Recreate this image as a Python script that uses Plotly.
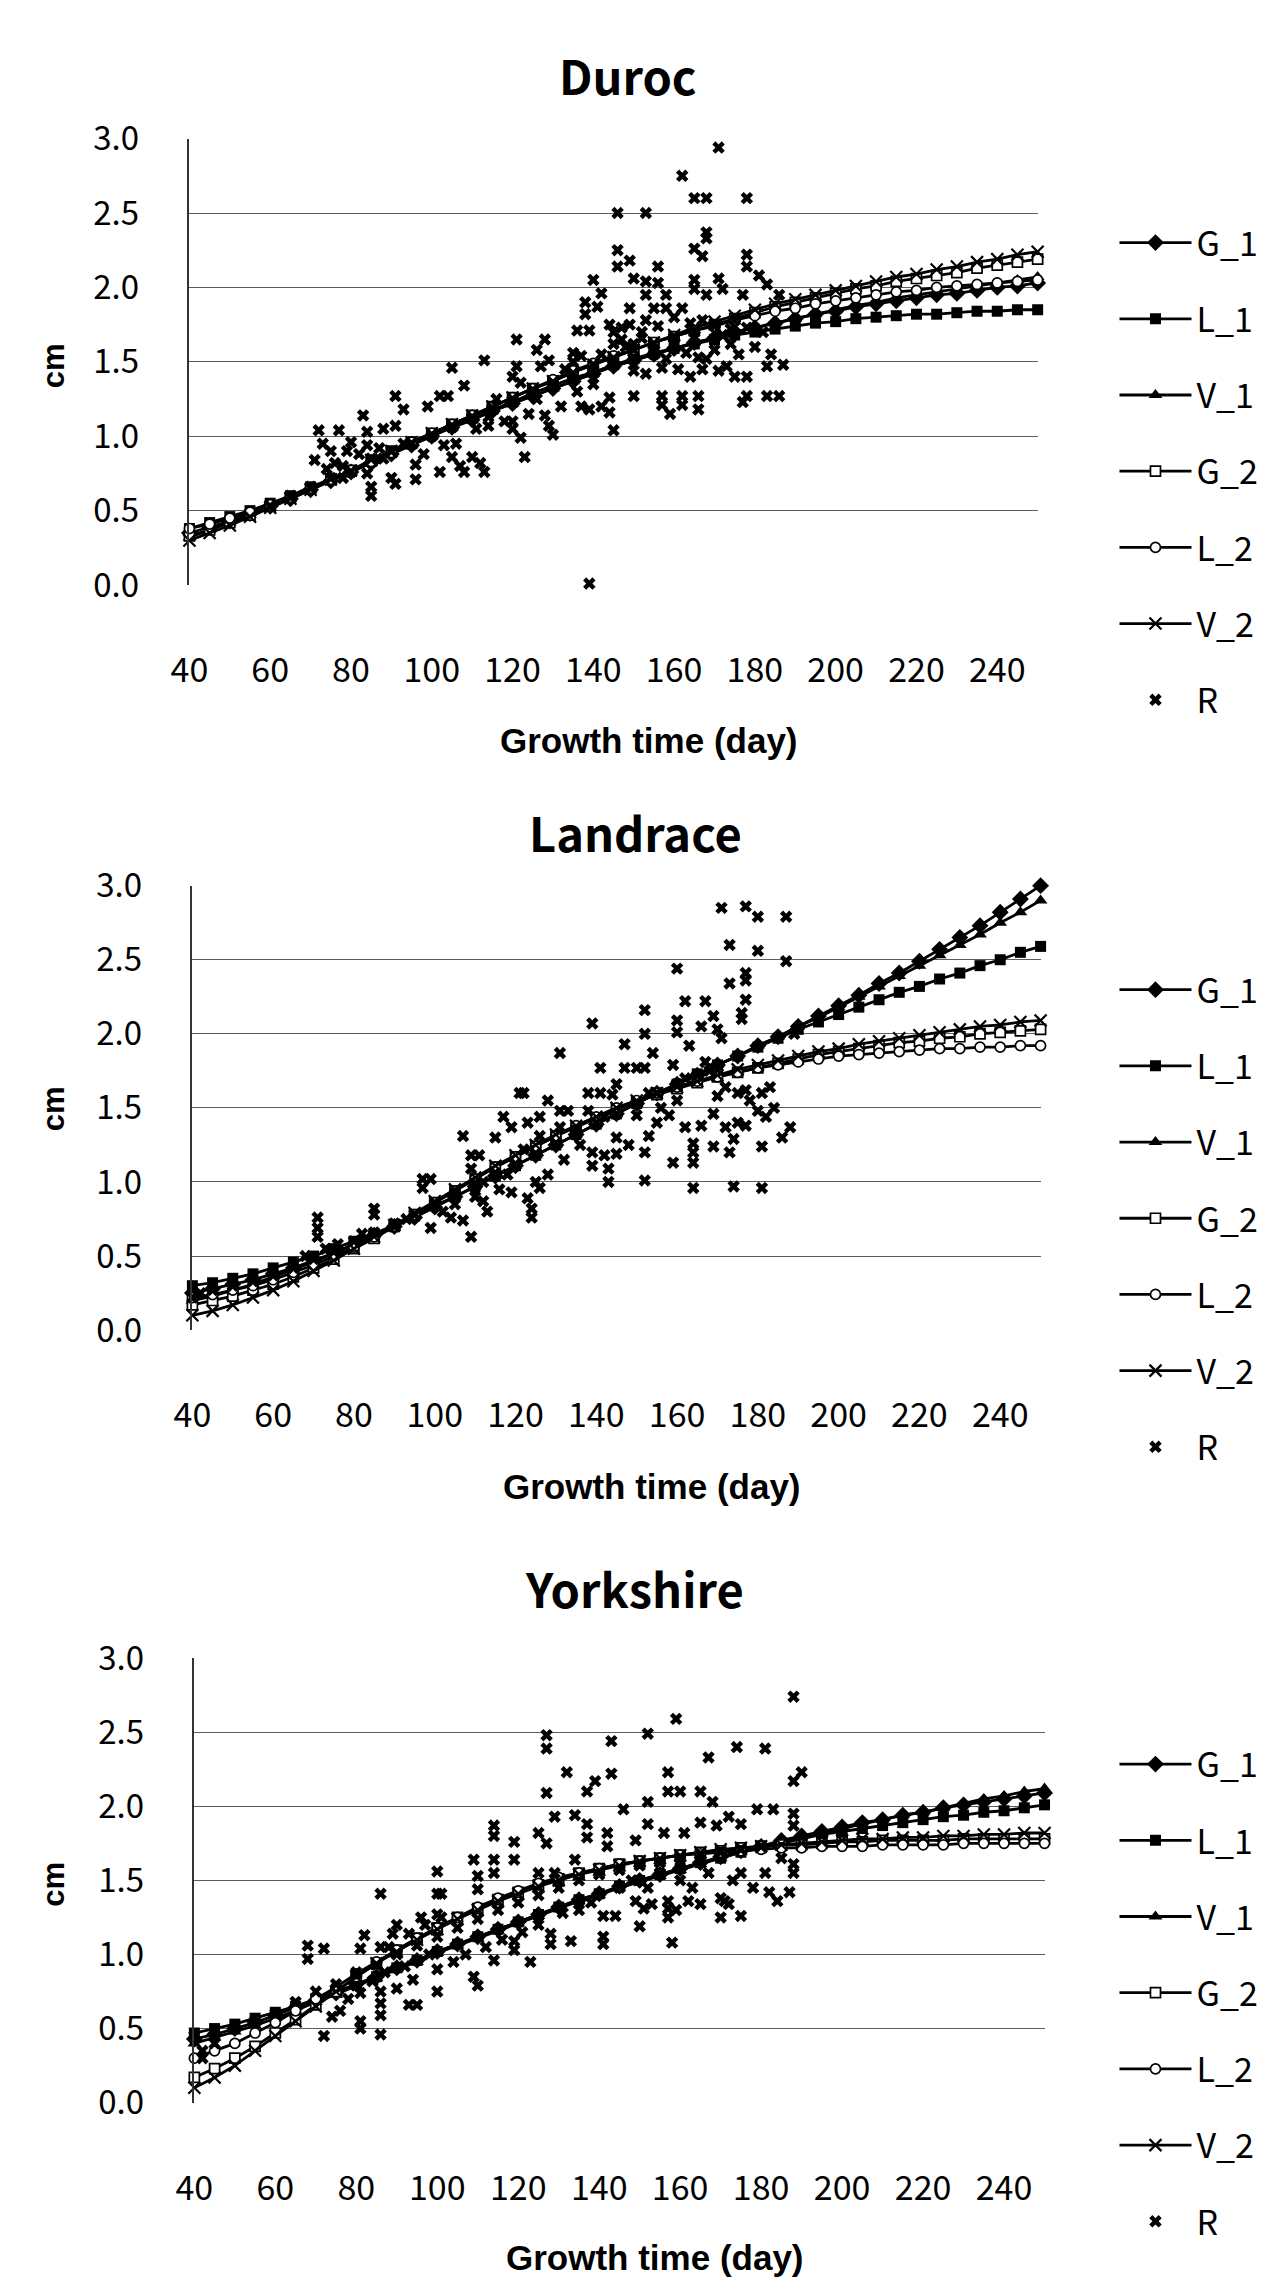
import plotly.graph_objects as go

# ---------------- data ----------------
DAYS = list(range(40, 251, 5))          # fitted-curve evaluation days
X_TICKS = list(range(40, 241, 20))
Y_TICKS = [0.0, 0.5, 1.0, 1.5, 2.0, 2.5, 3.0]
Y_TICK_TEXT = ["0.0", "0.5", "1.0", "1.5", "2.0", "2.5", "3.0"]
SERIES = ["G_1", "L_1", "V_1", "G_2", "L_2", "V_2"]

# ---- Duroc ----
duroc_G1 = [0.35,0.39,0.43,0.48,0.53,0.58,0.64,0.70,0.76,0.82,0.88,0.94,1.00,1.06,1.11,1.17,1.22,1.27,1.32,1.37,1.42,1.47,1.51,1.55,1.59,1.63,1.66,1.70,1.73,1.76,1.79,1.82,1.84,1.87,1.89,1.91,1.93,1.95,1.96,1.98,2.00,2.01,2.03]
duroc_L1 = [0.38,0.42,0.46,0.50,0.55,0.60,0.66,0.71,0.77,0.83,0.89,0.95,1.01,1.07,1.12,1.18,1.23,1.29,1.34,1.39,1.43,1.48,1.52,1.56,1.59,1.62,1.65,1.68,1.70,1.72,1.74,1.76,1.77,1.79,1.80,1.81,1.82,1.82,1.83,1.84,1.84,1.85,1.85]
duroc_V1 = [0.32,0.37,0.42,0.47,0.52,0.58,0.64,0.70,0.76,0.82,0.88,0.94,1.00,1.06,1.11,1.17,1.22,1.27,1.32,1.37,1.42,1.47,1.51,1.55,1.59,1.63,1.66,1.70,1.73,1.76,1.79,1.82,1.85,1.88,1.90,1.93,1.95,1.97,1.99,2.01,2.03,2.05,2.07]
duroc_G2 = [0.33,0.37,0.42,0.47,0.53,0.59,0.65,0.71,0.77,0.84,0.90,0.96,1.02,1.08,1.14,1.20,1.26,1.32,1.37,1.43,1.48,1.53,1.58,1.63,1.67,1.71,1.75,1.79,1.83,1.87,1.90,1.93,1.96,1.99,2.01,2.04,2.06,2.08,2.10,2.13,2.15,2.17,2.19]
duroc_L2 = [0.38,0.41,0.45,0.49,0.54,0.59,0.65,0.71,0.77,0.83,0.89,0.96,1.02,1.08,1.14,1.20,1.26,1.32,1.38,1.44,1.49,1.54,1.58,1.63,1.67,1.71,1.74,1.78,1.81,1.84,1.86,1.89,1.91,1.93,1.95,1.97,1.98,2.00,2.01,2.02,2.03,2.04,2.05]
duroc_V2 = [0.30,0.35,0.40,0.46,0.52,0.58,0.64,0.71,0.77,0.84,0.90,0.96,1.02,1.08,1.14,1.20,1.26,1.32,1.37,1.43,1.48,1.53,1.58,1.63,1.68,1.73,1.77,1.81,1.85,1.89,1.92,1.95,1.98,2.01,2.04,2.07,2.09,2.12,2.14,2.17,2.19,2.22,2.24]
duroc_R_x = [60,65,70,75,78,80,85,90,95,100,105,110,115,120,125,130,135,140,145,150,155,160,165,170,175,
             171,162,165,168,178,146,153,168,168,165,167,146,146,149,156,178,178,181,140,142,150,153,156,153,158,
             165,165,168,171,172,177,183,138,138,141,136,139,144,147,149,149,155,158,162,153,156,160,164,167,
             135,137,150,153,157,150,157,162,166,157,162,166,159,167,173,175,178,178,183,177,184,183,
             137,139,142,144,144,145,139,121,128,126,105,113,108,91,93,99,102,104,83,72,77,73,75,79,71,
             84,88,91,84,87,84,85,85,90,91,96,96,102,107,108,112,113,110,105,103,120,120,122,123,114,114,
             128,129,130,121,120,122,129,127,135,133,145,148,152,160,163,166,170,174,176,180,182,186,187,186,
             178,174,170,172,
             145,147,150,152,155,158,161,164,168,171,140,142,136,132,126,124,118,116,111,106,98,93,88,82,80,76,74,78]
duroc_R_y = [0.53,0.60,0.66,0.72,0.80,0.76,0.85,0.90,0.95,1.00,1.06,1.12,1.18,1.24,1.30,1.36,1.42,1.48,1.52,1.58,1.62,1.66,1.70,1.74,1.78,
             2.94,2.75,2.60,2.60,2.60,2.50,2.50,2.37,2.33,2.26,2.21,2.25,2.14,2.18,2.14,2.22,2.14,2.08,2.05,1.96,2.06,2.04,2.03,1.95,1.95,
             2.05,1.99,1.95,2.06,1.99,1.95,2.02,1.90,1.82,1.87,1.71,1.71,1.75,1.73,1.75,1.86,1.86,1.86,1.86,1.78,1.74,1.80,1.76,1.78,
             1.56,1.54,1.44,1.42,1.46,1.27,1.27,1.27,1.27,1.21,1.21,1.18,1.15,1.45,1.47,1.40,1.40,1.27,1.27,1.23,1.55,1.47,
             1.20,1.18,1.20,1.26,1.16,1.04,0.01,1.65,1.65,1.58,1.46,1.51,1.34,1.27,1.18,1.20,1.27,1.27,1.14,1.04,1.04,0.95,0.90,0.90,0.84,
             1.03,1.05,1.07,0.94,0.92,0.75,0.66,0.60,0.72,0.68,0.71,0.81,0.76,0.80,0.76,0.82,0.76,0.86,0.86,0.94,1.10,1.05,0.99,0.86,1.07,1.13,
             1.14,1.07,1.01,1.47,1.40,1.36,1.51,1.47,1.50,1.45,1.62,1.60,1.66,1.62,1.56,1.53,1.58,1.62,1.55,1.60,1.70,1.95,1.48,1.27,
             1.73,1.72,1.75,1.68,
             1.70,1.65,1.62,1.70,1.55,1.52,1.45,1.40,1.52,1.44,1.35,1.55,1.30,1.20,1.25,1.15,1.10,1.25,1.05,0.95,0.88,0.95,0.85,0.88,0.96,0.82,0.78,0.72]

# ---- Landrace ----
landrace_G1 = [0.25,0.28,0.31,0.34,0.38,0.42,0.47,0.52,0.58,0.64,0.70,0.76,0.83,0.90,0.97,1.04,1.11,1.18,1.25,1.32,1.39,1.46,1.53,1.60,1.66,1.72,1.79,1.85,1.92,1.98,2.05,2.12,2.19,2.26,2.34,2.41,2.49,2.57,2.65,2.73,2.82,2.91,3.00]
landrace_L1 = [0.30,0.32,0.35,0.38,0.42,0.46,0.50,0.55,0.60,0.65,0.71,0.77,0.84,0.90,0.97,1.04,1.11,1.18,1.25,1.32,1.39,1.46,1.53,1.60,1.66,1.73,1.79,1.85,1.91,1.97,2.03,2.08,2.13,2.18,2.23,2.28,2.32,2.37,2.41,2.46,2.50,2.55,2.59]
landrace_V1 = [0.20,0.23,0.27,0.31,0.36,0.41,0.46,0.52,0.58,0.64,0.70,0.77,0.84,0.90,0.97,1.04,1.11,1.18,1.25,1.32,1.39,1.46,1.53,1.60,1.66,1.72,1.79,1.85,1.92,1.98,2.05,2.11,2.18,2.25,2.32,2.39,2.46,2.53,2.60,2.67,2.75,2.82,2.90]
landrace_G2 = [0.17,0.20,0.23,0.27,0.31,0.36,0.42,0.48,0.55,0.62,0.70,0.78,0.86,0.94,1.02,1.10,1.17,1.24,1.31,1.37,1.43,1.49,1.54,1.59,1.63,1.67,1.71,1.74,1.77,1.80,1.83,1.86,1.88,1.90,1.92,1.94,1.95,1.97,1.98,2.00,2.01,2.02,2.03]
landrace_L2 = [0.22,0.24,0.27,0.30,0.34,0.39,0.44,0.50,0.56,0.63,0.70,0.78,0.86,0.94,1.02,1.10,1.17,1.24,1.31,1.38,1.44,1.50,1.55,1.60,1.64,1.68,1.71,1.74,1.77,1.79,1.81,1.83,1.85,1.86,1.87,1.88,1.89,1.90,1.90,1.91,1.91,1.92,1.92]
landrace_V2 = [0.10,0.13,0.17,0.22,0.27,0.33,0.40,0.47,0.55,0.63,0.71,0.79,0.87,0.95,1.03,1.11,1.18,1.25,1.32,1.38,1.44,1.50,1.55,1.60,1.64,1.68,1.72,1.76,1.79,1.82,1.85,1.88,1.90,1.93,1.95,1.97,1.99,2.01,2.03,2.05,2.06,2.08,2.09]
landrace_R_x = [40,42,45,50,55,60,65,70,75,80,85,90,95,100,105,110,115,120,125,130,135,140,145,150,155,160,165,
                171,177,180,187,173,180,187,160,177,177,177,173,176,176,162,167,160,160,152,152,139,147,131,166,169,170,171,189,
                141,147,150,152,154,145,144,159,163,167,121,122,138,141,128,131,133,117,119,123,126,126,131,138,142,153,
                172,175,177,181,183,162,166,172,175,177,188,169,180,182,153,152,159,164,164,164,169,174,173,181,
                139,142,145,139,143,143,152,164,174,181,107,109,111,109,97,99,97,85,85,71,71,71,99,104,107,109,
                119,123,124,124,126,113,112,110,116,118,125,135,150,156,160,
                145,148,155,158,162,168,170,178,184,186,136,132,128,122,115,112,105,102,93,90,82,76,73,68]
landrace_R_y = [0.22,0.25,0.27,0.30,0.33,0.37,0.42,0.48,0.53,0.60,0.66,0.72,0.78,0.85,0.92,0.99,1.06,1.12,1.19,1.26,1.33,1.40,1.46,1.53,1.60,1.66,1.72,
                2.85,2.86,2.79,2.79,2.60,2.56,2.49,2.44,2.41,2.36,2.23,2.34,2.14,2.10,2.22,2.22,2.09,2.01,2.16,2.00,2.07,1.93,1.87,2.05,2.12,2.03,1.97,2.00,
                1.77,1.77,1.77,1.77,1.87,1.66,1.59,1.79,1.92,1.81,1.60,1.60,1.60,1.60,1.55,1.48,1.48,1.44,1.37,1.40,1.44,1.31,1.37,1.48,1.44,1.60,
                1.64,1.60,1.62,1.60,1.64,1.37,1.38,1.37,1.40,1.38,1.37,1.46,1.48,1.44,1.31,1.20,1.13,1.26,1.20,1.13,1.24,1.29,1.20,1.24,
                1.20,1.18,1.19,1.11,1.09,1.00,1.01,0.96,0.97,0.96,1.31,1.18,1.18,1.09,1.02,1.02,0.96,0.82,0.78,0.76,0.69,0.63,0.69,0.76,0.74,0.63,
                0.93,0.89,0.82,0.76,0.96,0.80,0.87,0.90,0.95,1.05,1.00,1.35,1.45,1.50,1.55,
                1.30,1.25,1.40,1.45,1.70,1.75,1.58,1.55,1.50,1.30,1.25,1.15,1.05,1.22,1.30,1.00,0.85,0.80,0.75,0.70,0.65,0.58,0.55,0.50]

# ---- Yorkshire ----
yorkshire_G1 = [0.43,0.46,0.50,0.54,0.59,0.64,0.69,0.74,0.80,0.85,0.91,0.96,1.02,1.07,1.12,1.17,1.22,1.27,1.32,1.37,1.41,1.46,1.50,1.54,1.58,1.62,1.66,1.70,1.73,1.77,1.80,1.83,1.86,1.89,1.91,1.94,1.96,1.99,2.01,2.03,2.05,2.07,2.09]
yorkshire_L1 = [0.47,0.50,0.53,0.57,0.61,0.65,0.70,0.75,0.80,0.85,0.91,0.96,1.02,1.07,1.12,1.17,1.22,1.27,1.32,1.37,1.41,1.46,1.50,1.54,1.58,1.62,1.65,1.69,1.72,1.75,1.78,1.81,1.83,1.85,1.87,1.89,1.91,1.93,1.94,1.96,1.97,1.99,2.01]
yorkshire_V1 = [0.40,0.44,0.48,0.52,0.57,0.62,0.68,0.73,0.79,0.84,0.90,0.95,1.01,1.06,1.11,1.16,1.21,1.26,1.31,1.36,1.40,1.45,1.49,1.53,1.57,1.61,1.65,1.69,1.72,1.76,1.79,1.82,1.85,1.88,1.91,1.94,1.96,1.99,2.02,2.05,2.07,2.10,2.12]
yorkshire_G2 = [0.17,0.23,0.30,0.38,0.47,0.56,0.66,0.75,0.85,0.94,1.03,1.11,1.18,1.25,1.31,1.37,1.42,1.47,1.51,1.55,1.58,1.61,1.63,1.65,1.67,1.69,1.70,1.72,1.73,1.74,1.74,1.75,1.76,1.76,1.77,1.77,1.77,1.77,1.78,1.78,1.78,1.78,1.78]
yorkshire_L2 = [0.30,0.35,0.40,0.47,0.54,0.62,0.70,0.78,0.87,0.95,1.03,1.11,1.18,1.25,1.32,1.38,1.43,1.48,1.52,1.55,1.58,1.61,1.63,1.65,1.67,1.68,1.69,1.70,1.71,1.72,1.72,1.73,1.73,1.73,1.74,1.74,1.74,1.74,1.75,1.75,1.75,1.75,1.75]
yorkshire_V2 = [0.10,0.17,0.25,0.35,0.45,0.55,0.65,0.75,0.85,0.94,1.02,1.10,1.17,1.24,1.30,1.36,1.41,1.46,1.50,1.54,1.57,1.60,1.63,1.65,1.67,1.69,1.71,1.72,1.73,1.74,1.75,1.76,1.77,1.78,1.78,1.79,1.79,1.80,1.80,1.81,1.81,1.82,1.82]
yorkshire_R_x = [40,42,45,50,55,60,65,70,75,80,85,90,95,100,105,110,115,120,125,130,135,140,145,150,155,160,165,170,175,180,
                 188,159,127,152,127,143,167,174,181,132,143,139,137,127,157,188,190,157,160,165,168,152,146,179,183,
                 129,134,137,137,114,114,119,125,127,142,142,149,152,156,161,165,169,172,175,188,188,
                 109,114,119,100,110,110,114,86,100,101,125,129,134,188,188,175,182,184,187,
                 149,151,153,157,157,159,162,165,170,171,172,170,175,157,141,144,150,128,128,133,141,141,158,
                 119,119,114,109,110,123,100,100,96,97,100,101,93,89,90,82,81,86,88,68,68,72,
                 80,80,81,81,81,86,86,86,86,93,95,90,94,72,42,45,
                 145,148,152,155,160,163,167,173,178,181,185,138,135,131,125,121,116,112,107,104,98,92,87,84,78,76,74]
yorkshire_R_y = [0.45,0.30,0.40,0.50,0.55,0.60,0.68,0.75,0.80,0.87,0.93,1.00,1.06,1.12,1.18,1.24,1.30,1.35,1.40,1.45,1.50,1.54,1.57,1.60,1.62,1.65,1.67,1.69,1.71,1.73,
                 2.74,2.59,2.48,2.49,2.39,2.44,2.33,2.40,2.39,2.23,2.22,2.17,2.10,2.09,2.23,2.17,2.23,2.10,2.10,2.10,2.03,2.03,1.98,1.98,1.98,
                 1.93,1.94,1.88,1.79,1.87,1.80,1.76,1.82,1.75,1.82,1.73,1.77,1.88,1.82,1.82,1.89,1.87,1.93,1.88,1.95,1.87,
                 1.64,1.64,1.64,1.56,1.53,1.44,1.55,1.41,1.41,1.41,1.55,1.55,1.64,1.61,1.55,1.55,1.42,1.36,1.42,
                 1.36,1.31,1.34,1.36,1.31,1.30,1.36,1.34,1.38,1.36,1.34,1.25,1.26,1.25,1.26,1.26,1.19,1.14,1.07,1.09,1.12,1.07,1.08,
                 1.09,1.03,0.96,0.85,0.79,0.95,0.90,0.75,1.25,1.20,1.27,1.25,1.14,1.14,1.20,1.13,1.04,1.05,1.05,1.06,0.97,1.04,
                 0.88,0.79,0.74,0.55,0.50,0.75,0.67,0.59,0.46,0.66,0.66,0.77,0.83,0.45,0.35,0.45,
                 1.45,1.50,1.45,1.55,1.50,1.45,1.55,1.50,1.45,1.55,1.65,1.35,1.30,1.28,1.20,1.15,1.10,1.05,1.00,0.95,1.00,0.92,0.88,0.82,0.70,0.62,0.58]

# ---------------- layout helpers ----------------
W, H = 1279, 2296
def fx(p): return p / W
def fy(p): return 1 - p / H

STYLE = {
    "G_1": dict(symbol="diamond", size=13, fill="black", lw=0),
    "L_1": dict(symbol="square", size=11, fill="black", lw=0),
    "V_1": dict(symbol="triangle-up", size=12, fill="black", lw=0),
    "G_2": dict(symbol="square", size=10, fill="white", lw=1.7),
    "L_2": dict(symbol="circle", size=10, fill="white", lw=1.7),
    "V_2": dict(symbol="x-thin", size=12, fill="black", lw=2.2),
}

panels = [
    dict(title="Duroc", curves=[duroc_G1, duroc_L1, duroc_V1, duroc_G2, duroc_L2, duroc_V2],
         rx=duroc_R_x, ry=duroc_R_y, x0=173, x1=1034, y0=115, y1=571,
         tx=618, ty=50, gx=640, gy=730, cmy=347, leg=216),
    dict(title="Landrace", curves=[landrace_G1, landrace_L1, landrace_V1, landrace_G2, landrace_L2, landrace_V2],
         rx=landrace_R_x, ry=landrace_R_y, x0=176, x1=1037, y0=878, y1=1332,
         tx=626, ty=823, gx=643, gy=1492, cmy=1106, leg=979),
    dict(title="Yorkshire", curves=[yorkshire_G1, yorkshire_L1, yorkshire_V1, yorkshire_G2, yorkshire_L2, yorkshire_V2],
         rx=yorkshire_R_x, ry=yorkshire_R_y, x0=178, x1=1041, y0=1667, y1=2121,
         tx=625, ty=1595, gx=646, gy=2279, cmy=1898, leg=1770),
]

KR = "Noto Sans CJK KR, Noto Sans, sans-serif"
XTICK_FONT = dict(family=KR, size=34, color="black")
YTICK_FONT = dict(family=KR, size=33, color="black")
fig = go.Figure()
annotations = []
layout = {}

for i, p in enumerate(panels, start=1):
    xa = "x" if i == 1 else f"x{i}"
    ya = "y" if i == 1 else f"y{i}"
    leg = "legend" if i == 1 else f"legend{i}"
    for name, vals in zip(SERIES, p["curves"]):
        st = STYLE[name]
        fig.add_trace(go.Scatter(
            x=DAYS, y=vals, name=name, mode="lines+markers", xaxis=xa, yaxis=ya,
            legend=leg, legendgroup=f"{p['title']}_{name}",
            line=dict(color="black", width=2.8),
            marker=dict(symbol=st["symbol"], size=st["size"], color=st["fill"],
                        line=dict(color="black", width=st["lw"])),
            cliponaxis=False, hoverinfo="skip"))
    fig.add_trace(go.Scatter(
        x=p["rx"], y=p["ry"], name="R", mode="markers", xaxis=xa, yaxis=ya,
        legend=leg, legendgroup=f"{p['title']}_R",
        marker=dict(symbol="x", size=11, color="black", line=dict(width=0)),
        cliponaxis=False, hoverinfo="skip"))

    layout["xaxis" if i == 1 else f"xaxis{i}"] = dict(
        domain=[fx(p["x0"]), fx(p["x1"])], anchor=ya, range=[40, 250],
        tickmode="array", tickvals=X_TICKS, ticktext=[str(v) for v in X_TICKS],
        showgrid=False, zeroline=False, showline=False, ticks="",
        tickfont=XTICK_FONT, ticklabelstandoff=62)
    layout["yaxis" if i == 1 else f"yaxis{i}"] = dict(
        domain=[fy(p["y1"]), fy(p["y0"])], anchor=xa, range=[0, 3],
        tickmode="array", tickvals=Y_TICKS, ticktext=Y_TICK_TEXT,
        showgrid=True, gridcolor="#5c5c5c", gridwidth=1.4, zeroline=False,
        showline=True, linecolor="#333", linewidth=1.6, ticks="",
        tickfont=YTICK_FONT, ticklabelstandoff=42)
    layout[leg] = dict(x=fx(1112), y=fy(p["leg"] - 24), xanchor="left", yanchor="top",
                       font=dict(family=KR, size=34, color="black"),
                       tracegroupgap=29, bgcolor="rgba(0,0,0,0)", itemwidth=72,
                       traceorder="grouped")

    annotations.append(dict(text=f"<b>{p['title']}</b>", x=fx(p["tx"]), y=fy(p["ty"]), xref="paper", yref="paper",
                            showarrow=False, xanchor="center", yanchor="middle",
                            font=dict(family=KR, size=47, color="black")))
    annotations.append(dict(text="<b>Growth time (day)</b>", x=fx(p["gx"]), y=fy(p["gy"]), xref="paper", yref="paper",
                            showarrow=False, xanchor="center", yanchor="middle",
                            font=dict(family="Liberation Sans, Arial, sans-serif", size=35, color="black")))
    annotations.append(dict(text="<b>cm</b>", x=fx(35), y=fy(p["cmy"]), xref="paper", yref="paper",
                            showarrow=False, xanchor="center", yanchor="middle", textangle=-90,
                            font=dict(family="Liberation Sans, Arial, sans-serif", size=31, color="black")))

fig.update_layout(width=W, height=H, margin=dict(l=0, r=0, t=0, b=0),
                  paper_bgcolor="white", plot_bgcolor="white",
                  annotations=annotations, showlegend=True, **layout)
fig.write_html("out.html", post_script="document.body.style.margin='0';")
